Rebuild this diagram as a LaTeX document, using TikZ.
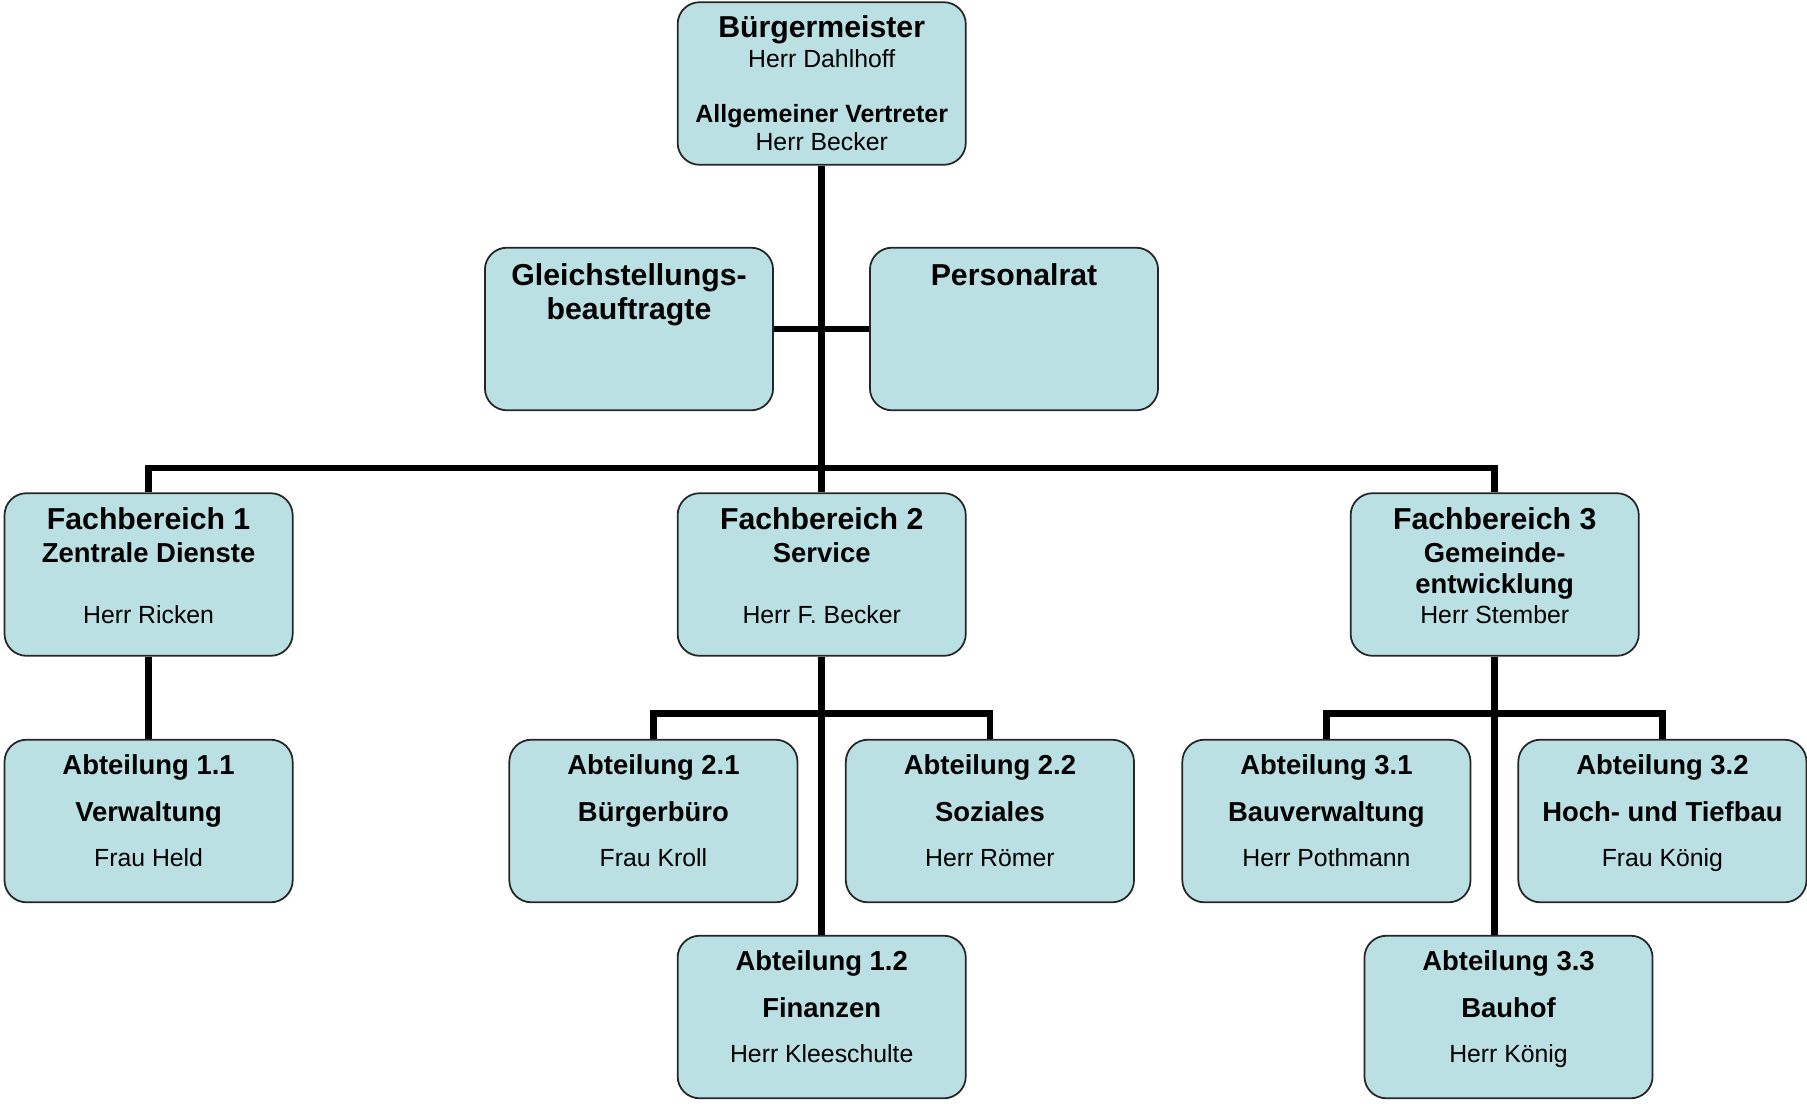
\documentclass[tikz,border=0pt]{standalone}
\usepackage{fontspec}
\setmainfont{Liberation Sans}
\definecolor{boxfill}{RGB}{187,224,227}
\tikzset{
  orgbox/.style={draw=black!85, fill=boxfill, rounded corners=2.2mm, line width=0.5pt,
    minimum width=2.88cm, minimum height=1.625cm, inner sep=0pt},
  conn/.style={line width=1.9pt},
  hd/.style={font=\bfseries\fontsize{8.6}{10}\selectfont, text height=6.2pt, text depth=0pt, inner sep=0pt},
  sb/.style={font=\bfseries\fontsize{7.8}{9}\selectfont, text height=5.6pt, text depth=0pt, inner sep=0pt},
  sm/.style={font=\bfseries\fontsize{7.1}{8}\selectfont, text height=5.1pt, text depth=0pt, inner sep=0pt},
  nm/.style={font=\fontsize{7.05}{8}\selectfont, text height=5.1pt, text depth=0pt, inner sep=0pt}
}
\begin{document}
\begin{tikzpicture}[x=0.01cm, y=-0.01cm]
  \useasboundingbox[fill=white] (0,0) rectangle (1807,1103);
  % boxes
  \node[orgbox] (bm) at (821.7,83.5) {};
  \node[orgbox] (gb) at (629,329) {};
  \node[orgbox] (pr) at (1014,329) {};
  \node[orgbox] (fb1) at (148.6,574.5) {};
  \node[orgbox] (fb2) at (821.7,574.5) {};
  \node[orgbox] (fb3) at (1494.7,574.5) {};
  \node[orgbox] (a11) at (148.6,821) {};
  \node[orgbox] (a21) at (653.4,821) {};
  \node[orgbox] (a22) at (989.9,821) {};
  \node[orgbox] (a31) at (1326.4,821) {};
  \node[orgbox] (a32) at (1662.4,821) {};
  \node[orgbox] (a12) at (821.7,1017) {};
  \node[orgbox] (a33) at (1508.5,1017) {};
  % bus points
  \coordinate (bus0) at (821.7,467.9);
  \coordinate (bus2) at (821.7,713.3);
  \coordinate (bus3) at (1494.7,713.3);
  % connectors
  \draw[conn] (bm.south) -- (fb2.north);
  \draw[conn] (gb.east) -- (pr.west);
  \draw[conn] (fb1.north) |- (bus0) -| (fb3.north);
  \draw[conn] (fb1.south) -- (a11.north);
  \draw[conn] (fb2.south) -- (a12.north);
  \draw[conn] (a21.north) |- (bus2) -| (a22.north);
  \draw[conn] (fb3.south) -- (fb3.south |- a33.north);
  \draw[conn] (a31.north) |- (bus3) -| (a32.north);
  % texts
  \node[hd] at ([yshift=-2.54mm]bm.north) {Bürgermeister};
  \node[nm] at ([yshift=-5.76mm]bm.north) {Herr Dahlhoff};
  \node[sm] at ([yshift=-11.18mm]bm.north) {Allgemeiner Vertreter};
  \node[nm] at ([yshift=-14.06mm]bm.north) {Herr Becker};
  \node[hd] at ([yshift=-2.77mm]gb.north) {Gleichstellungs-};
  \node[hd] at ([yshift=-6.22mm]gb.north) {beauftragte};
  \node[hd] at ([yshift=-2.77mm]pr.north) {Personalrat};
  \node[hd] at ([yshift=-2.65mm]fb1.north) {Fachbereich 1};
  \node[sb] at ([yshift=-5.99mm]fb1.north) {Zentrale Dienste};
  \node[nm] at ([yshift=-12.22mm]fb1.north) {Herr Ricken};
  \node[hd] at ([yshift=-2.65mm]fb2.north) {Fachbereich 2};
  \node[sb] at ([yshift=-5.99mm]fb2.north) {Service};
  \node[nm] at ([yshift=-12.22mm]fb2.north) {Herr F. Becker};
  \node[hd] at ([yshift=-2.65mm]fb3.north) {Fachbereich 3};
  \node[sb] at ([yshift=-5.99mm]fb3.north) {Gemeinde-};
  \node[sb] at ([yshift=-9.1mm]fb3.north) {entwicklung};
  \node[nm] at ([yshift=-12.22mm]fb3.north) {Herr Stember};
  \node[sb] at ([yshift=-2.54mm]a11.north) {Abteilung 1.1};
  \node[sb] at ([yshift=-7.26mm]a11.north) {Verwaltung};
  \node[nm] at ([yshift=-11.87mm]a11.north) {Frau Held};
  \node[sb] at ([yshift=-2.54mm]a21.north) {Abteilung 2.1};
  \node[sb] at ([yshift=-7.26mm]a21.north) {Bürgerbüro};
  \node[nm] at ([yshift=-11.87mm]a21.north) {Frau Kroll};
  \node[sb] at ([yshift=-2.54mm]a22.north) {Abteilung 2.2};
  \node[sb] at ([yshift=-7.26mm]a22.north) {Soziales};
  \node[nm] at ([yshift=-11.87mm]a22.north) {Herr Römer};
  \node[sb] at ([yshift=-2.54mm]a12.north) {Abteilung 1.2};
  \node[sb] at ([yshift=-7.26mm]a12.north) {Finanzen};
  \node[nm] at ([yshift=-11.87mm]a12.north) {Herr Kleeschulte};
  \node[sb] at ([yshift=-2.54mm]a31.north) {Abteilung 3.1};
  \node[sb] at ([yshift=-7.26mm]a31.north) {Bauverwaltung};
  \node[nm] at ([yshift=-11.87mm]a31.north) {Herr Pothmann};
  \node[sb] at ([yshift=-2.54mm]a32.north) {Abteilung 3.2};
  \node[sb] at ([yshift=-7.26mm]a32.north) {Hoch- und Tiefbau};
  \node[nm] at ([yshift=-11.87mm]a32.north) {Frau König};
  \node[sb] at ([yshift=-2.54mm]a33.north) {Abteilung 3.3};
  \node[sb] at ([yshift=-7.26mm]a33.north) {Bauhof};
  \node[nm] at ([yshift=-11.87mm]a33.north) {Herr König};
\end{tikzpicture}
\end{document}
